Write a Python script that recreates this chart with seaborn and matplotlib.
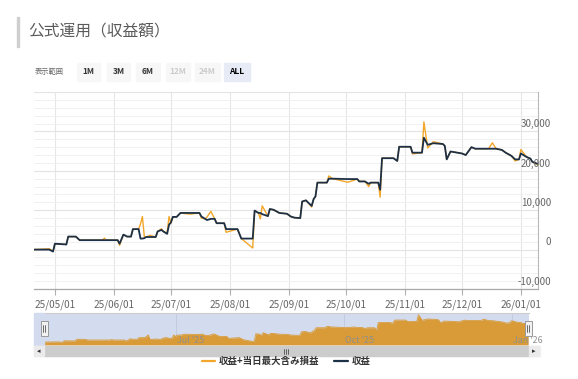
import numpy as np
import pandas as pd
import matplotlib
matplotlib.use("Agg")
import matplotlib.pyplot as plt
from matplotlib.patches import Rectangle
from matplotlib.lines import Line2D
from matplotlib.ticker import MultipleLocator
import seaborn as sns

# ---------------- data ----------------
dates = [
    "2025-04-20", "2025-04-28", "2025-04-30", "2025-05-01", "2025-05-07", "2025-05-08",
    "2025-05-12", "2025-05-14", "2025-05-26", "2025-05-27", "2025-05-28", "2025-06-03",
    "2025-06-04", "2025-06-06", "2025-06-08", "2025-06-10", "2025-06-11", "2025-06-14",
    "2025-06-15", "2025-06-16", "2025-06-17", "2025-06-18", "2025-06-20", "2025-06-23",
    "2025-06-24", "2025-06-26", "2025-06-27", "2025-06-29", "2025-06-30", "2025-07-01",
    "2025-07-02", "2025-07-04", "2025-07-06", "2025-07-11", "2025-07-16", "2025-07-17",
    "2025-07-19", "2025-07-20", "2025-07-22", "2025-07-24", "2025-07-25", "2025-07-29",
    "2025-07-30", "2025-08-05", "2025-08-07", "2025-08-13", "2025-08-14", "2025-08-16",
    "2025-08-17", "2025-08-18", "2025-08-21", "2025-08-22", "2025-08-24", "2025-08-27",
    "2025-08-31", "2025-09-02", "2025-09-04", "2025-09-07", "2025-09-08", "2025-09-10",
    "2025-09-11", "2025-09-13", "2025-09-14", "2025-09-15", "2025-09-16", "2025-09-21",
    "2025-09-22", "2025-09-24", "2025-10-02", "2025-10-07", "2025-10-08", "2025-10-11",
    "2025-10-13", "2025-10-14", "2025-10-18", "2025-10-19", "2025-10-20", "2025-10-26",
    "2025-10-28", "2025-10-29", "2025-11-04", "2025-11-05", "2025-11-10", "2025-11-11",
    "2025-11-13", "2025-11-16", "2025-11-21", "2025-11-22", "2025-11-23", "2025-11-25",
    "2025-12-01", "2025-12-03", "2025-12-06", "2025-12-08", "2025-12-15", "2025-12-17",
    "2025-12-19", "2025-12-22", "2025-12-24", "2025-12-27", "2025-12-29", "2025-12-31",
    "2026-01-01", "2026-01-04", "2026-01-06", "2026-01-07", "2026-01-09", "2026-01-10",
]
profit = [
    0, 0, -500, 1500, 1300, 3300,
    3300, 2400, 2400, 2400, 2400, 2400,
    1500, 3800, 3300, 3300, 5200, 5200,
    2800, 2800, 2900, 3200, 3200, 3200,
    4600, 5000, 4600, 4000, 6300, 6900,
    8300, 8300, 9300, 9300, 9300, 8400,
    7800, 7500, 7800, 7800, 6700, 6700,
    5200, 5200, 2800, 2800, 9900, 9300,
    9300, 9000, 8500, 10300, 10100, 9300,
    9100, 8400, 8100, 8000, 12200, 12500,
    12000, 11100, 12800, 13500, 17000, 17000,
    18000, 18000, 17900, 17900, 17300, 17300,
    16700, 17000, 17000, 15200, 23200, 23200,
    22500, 26100, 26100, 24600, 24600, 28400,
    26600, 27000, 26800, 26300, 22900, 24900,
    24400, 24000, 26000, 25600, 25600, 25600,
    25600, 25300, 24600, 23800, 22900, 22900,
    24400, 23500, 23100, 22300, 21900, 21800,
]
profit_plus = [
    0, 200, -400, 1500, 1300, 3300,
    3300, 2400, 2400, 2900, 2400, 2400,
    1100, 3800, 3300, 3300, 5200, 5200,
    6500, 8400, 3300, 3200, 3600, 3200,
    4600, 5300, 4600, 4200, 8400, 6700,
    8300, 8300, 9300, 9000, 9300, 8000,
    7800, 8300, 9700, 7800, 6700, 6700,
    4400, 5200, 2800, 400, 9900, 9300,
    7800, 11100, 8500, 10300, 10100, 9300,
    9100, 8400, 8100, 8000, 12200, 12500,
    12000, 10800, 12800, 13500, 17000, 17000,
    18700, 18000, 17100, 17900, 17300, 17300,
    16000, 17000, 17000, 13300, 23200, 23200,
    22500, 26100, 26100, 24300, 24600, 32400,
    25800, 27400, 26800, 26300, 22900, 24900,
    24400, 24000, 26000, 25600, 25600, 27100,
    25600, 25300, 24600, 23800, 22500, 22900,
    25400, 23500, 23100, 22300, 21700, 21600,
]

series_names = ["収益+当日最大含み損益", "収益"]
title_text = "公式運用（収益額）"
range_label = "表示範囲"
range_buttons = ["1M", "3M", "6M", "12M", "24M", "ALL"]
x_tick_dates = ["2025-05-01", "2025-06-01", "2025-07-01", "2025-08-01", "2025-09-01",
                "2025-10-01", "2025-11-01", "2025-12-01", "2026-01-01"]
x_tick_labels = ["25/05/01", "25/06/01", "25/07/01", "25/08/01", "25/09/01",
                 "25/10/01", "25/11/01", "25/12/01", "26/01/01"]
y_ticks = [-10000, 0, 10000, 20000, 30000, 40000]
y_tick_labels = ["-10,000", "0", "10,000", "20,000", "30,000", ""]
nav_tick_dates = ["2025-07-01", "2025-10-01", "2026-01-01"]
nav_tick_labels = ["Jul '25", "Oct '25", "Jan '26"]
x_start, x_end = "2025-04-20", "2026-01-10"

# ---------------- style ----------------
ORANGE = "#f2a62a"
NAVY = "#1c3047"
sns.set_theme(style="white")
plt.rcParams['font.family'] = ['Noto Sans CJK JP', 'DejaVu Sans']

W, H = 578, 379
fig = plt.figure(figsize=(W / 100, H / 100), dpi=100)
fig.patch.set_facecolor("white")


def fx(px):
    return px / W


def fy(py):
    return 1 - py / H


df = pd.DataFrame({"date": pd.to_datetime(dates), "profit": profit, "profit_plus": profit_plus})
xmin, xmax = pd.Timestamp(x_start), pd.Timestamp(x_end)

# ---------------- header ----------------
fig.patches.append(Rectangle((fx(17), fy(47)), fx(2), fy(17) - fy(47), transform=fig.transFigure,
                             color="#cfcfcf", zorder=1))
fig.text(fx(28), fy(31), title_text, fontsize=11.3, color="#5a5a5a", va="center", ha="left")
fig.text(fx(35), fy(72), range_label, fontsize=5.2, color="#666666", va="center", ha="left")
btn_x = [(77, 100), (107, 130), (136, 160), (166, 190), (195, 220), (224, 250)]
for (x0, x1), lab in zip(btn_x, range_buttons):
    active = lab == "ALL"
    disabled = lab in ("12M", "24M")
    fc = "#e6ebf5" if active else "#f7f7f7"
    fig.patches.append(Rectangle((fx(x0), fy(81)), fx(x1 - x0), fy(63) - fy(81),
                                 transform=fig.transFigure, color=fc, zorder=1))
    tc = "#cccccc" if disabled else ("#000000" if active else "#333333")
    fig.text(fx((x0 + x1) / 2), fy(72), lab, fontsize=6, color=tc, fontweight="bold",
             ha="center", va="center")

# ---------------- main chart ----------------
ax = fig.add_axes([fx(34), fy(289), fx(538) - fx(34), fy(92) - fy(289)])
sns.lineplot(data=df, x="date", y="profit_plus", ax=ax, color=ORANGE, linewidth=1.0, legend=False)
sns.lineplot(data=df, x="date", y="profit", ax=ax, color=NAVY, linewidth=1.3, legend=False)
ax.set_xlim(xmin, xmax)
ax.set_ylim(-10000, 40000)
ax.set_xlabel("")
ax.set_ylabel("")
ax.set_xticks(pd.to_datetime(x_tick_dates))
ax.set_xticklabels(x_tick_labels, fontsize=7.2, color="#666666")
ax.set_yticks(y_ticks)
ax.set_yticklabels([])
ax.yaxis.set_minor_locator(MultipleLocator(2000))
ax.tick_params(axis="y", which="both", left=False, right=False, labelleft=False)
for v, lab in zip(y_ticks, y_tick_labels):
    ax.annotate(lab, xy=(1.0, v), xycoords=("axes fraction", "data"), xytext=(9.4, 1.6),
                textcoords="offset points", ha="right", va="bottom", fontsize=7.0,
                color="#666666", annotation_clip=False)
ax.tick_params(axis="x", which="major", bottom=True, length=4, width=0.8, color="#b0b0b0",
               pad=3.5)
ax.grid(True, which="major", axis="y", color="#e3e3e3", linewidth=0.8)
ax.grid(True, which="minor", axis="y", color="#f1f1f1", linewidth=0.7)
ax.grid(True, which="major", axis="x", color="#e6e6e6", linewidth=0.8)
ax.set_axisbelow(True)
for s in ("top", "left"):
    ax.spines[s].set_visible(False)
ax.spines["right"].set_color("#b8b8b8")
ax.spines["right"].set_linewidth(0.8)
ax.spines["bottom"].set_color("#a8a8a8")
ax.spines["bottom"].set_linewidth(0.9)

# ---------------- navigator ----------------
fig.patches.append(Rectangle((fx(34), fy(345)), fx(10), fy(313) - fy(345),
                             transform=fig.transFigure, color="#d3dbee", zorder=0))
nav = fig.add_axes([fx(44), fy(345), fx(529) - fx(44), fy(313) - fy(345)])
nav.set_facecolor("#d3dbee")
nav_ylim = (-3500, 34500)
nav.fill_between(df["date"], df["profit_plus"], nav_ylim[0], color="#d89b38", linewidth=0)
sns.lineplot(data=df, x="date", y="profit_plus", ax=nav, color="#d89b38", linewidth=0.6, legend=False)
nav.set_xlim(xmin, xmax + pd.Timedelta(days=0.5))
nav.set_ylim(*nav_ylim)
nav.set_xticks(pd.to_datetime(nav_tick_dates))
nav.set_xticklabels([])
nav.set_yticks([])
nav.set_xlabel("")
nav.set_ylabel("")
nav.tick_params(axis="x", length=0)
nav.grid(True, axis="x", color="#c4cbe0", linewidth=0.7)
nav.set_axisbelow(True)
for d, lab in zip(pd.to_datetime(nav_tick_dates), nav_tick_labels):
    nav.text(d + pd.Timedelta(days=1), 0.13, lab, transform=nav.get_xaxis_transform(),
             fontsize=6.4, color="#8f8f8f", ha="left", va="center", zorder=5, clip_on=False)
for s in nav.spines.values():
    s.set_visible(False)
nav.spines["top"].set_visible(True)
nav.spines["top"].set_color("#cccccc")
nav.spines["top"].set_linewidth(0.8)

# handles
for hx in (44, 528):
    fig.patches.append(Rectangle((fx(hx - 3.5), fy(336)), fx(7), fy(321) - fy(336),
                                 transform=fig.transFigure, facecolor="#f2f2f2",
                                 edgecolor="#999999", linewidth=0.7, zorder=10))
    for dx in (-1, 1):
        fig.lines.append(Line2D([fx(hx + dx), fx(hx + dx)], [fy(325), fy(332)],
                                transform=fig.transFigure, color="#333333", linewidth=0.5,
                                zorder=11))

# scrollbar
fig.patches.append(Rectangle((fx(34), fy(356)), fx(506), fy(346) - fy(356),
                             transform=fig.transFigure, color="#f2f2f2", zorder=2))
fig.patches.append(Rectangle((fx(44), fy(356)), fx(485), fy(346) - fy(356),
                             transform=fig.transFigure, color="#cccccc", zorder=3))
for bx in (34, 529):
    fig.patches.append(Rectangle((fx(bx), fy(356)), fx(10), fy(346) - fy(356),
                                 transform=fig.transFigure, color="#ebebeb", zorder=3))
fig.text(fx(39), fy(351), "◂", fontsize=5, color="#333333", ha="center", va="center",
         family="DejaVu Sans")
fig.text(fx(534), fy(351), "▸", fontsize=5, color="#333333", ha="center", va="center",
         family="DejaVu Sans")
for dx in (-2, 0, 2):
    fig.lines.append(Line2D([fx(286 + dx), fx(286 + dx)], [fy(348.5), fy(353.5)],
                            transform=fig.transFigure, color="#333333", linewidth=0.5, zorder=4))

# legend
leg_handles = [Line2D([0], [0], color=ORANGE, linewidth=1.6),
               Line2D([0], [0], color=NAVY, linewidth=1.6)]
fig.legend(leg_handles, series_names, loc="center", bbox_to_anchor=(fx(286), fy(361)),
           ncol=2, frameon=False, prop={"size": 6.8, "weight": "bold"}, handlelength=1.4,
           handletextpad=0.4, columnspacing=1.6, labelcolor="#333333")

fig.savefig("out.png", dpi=100)
